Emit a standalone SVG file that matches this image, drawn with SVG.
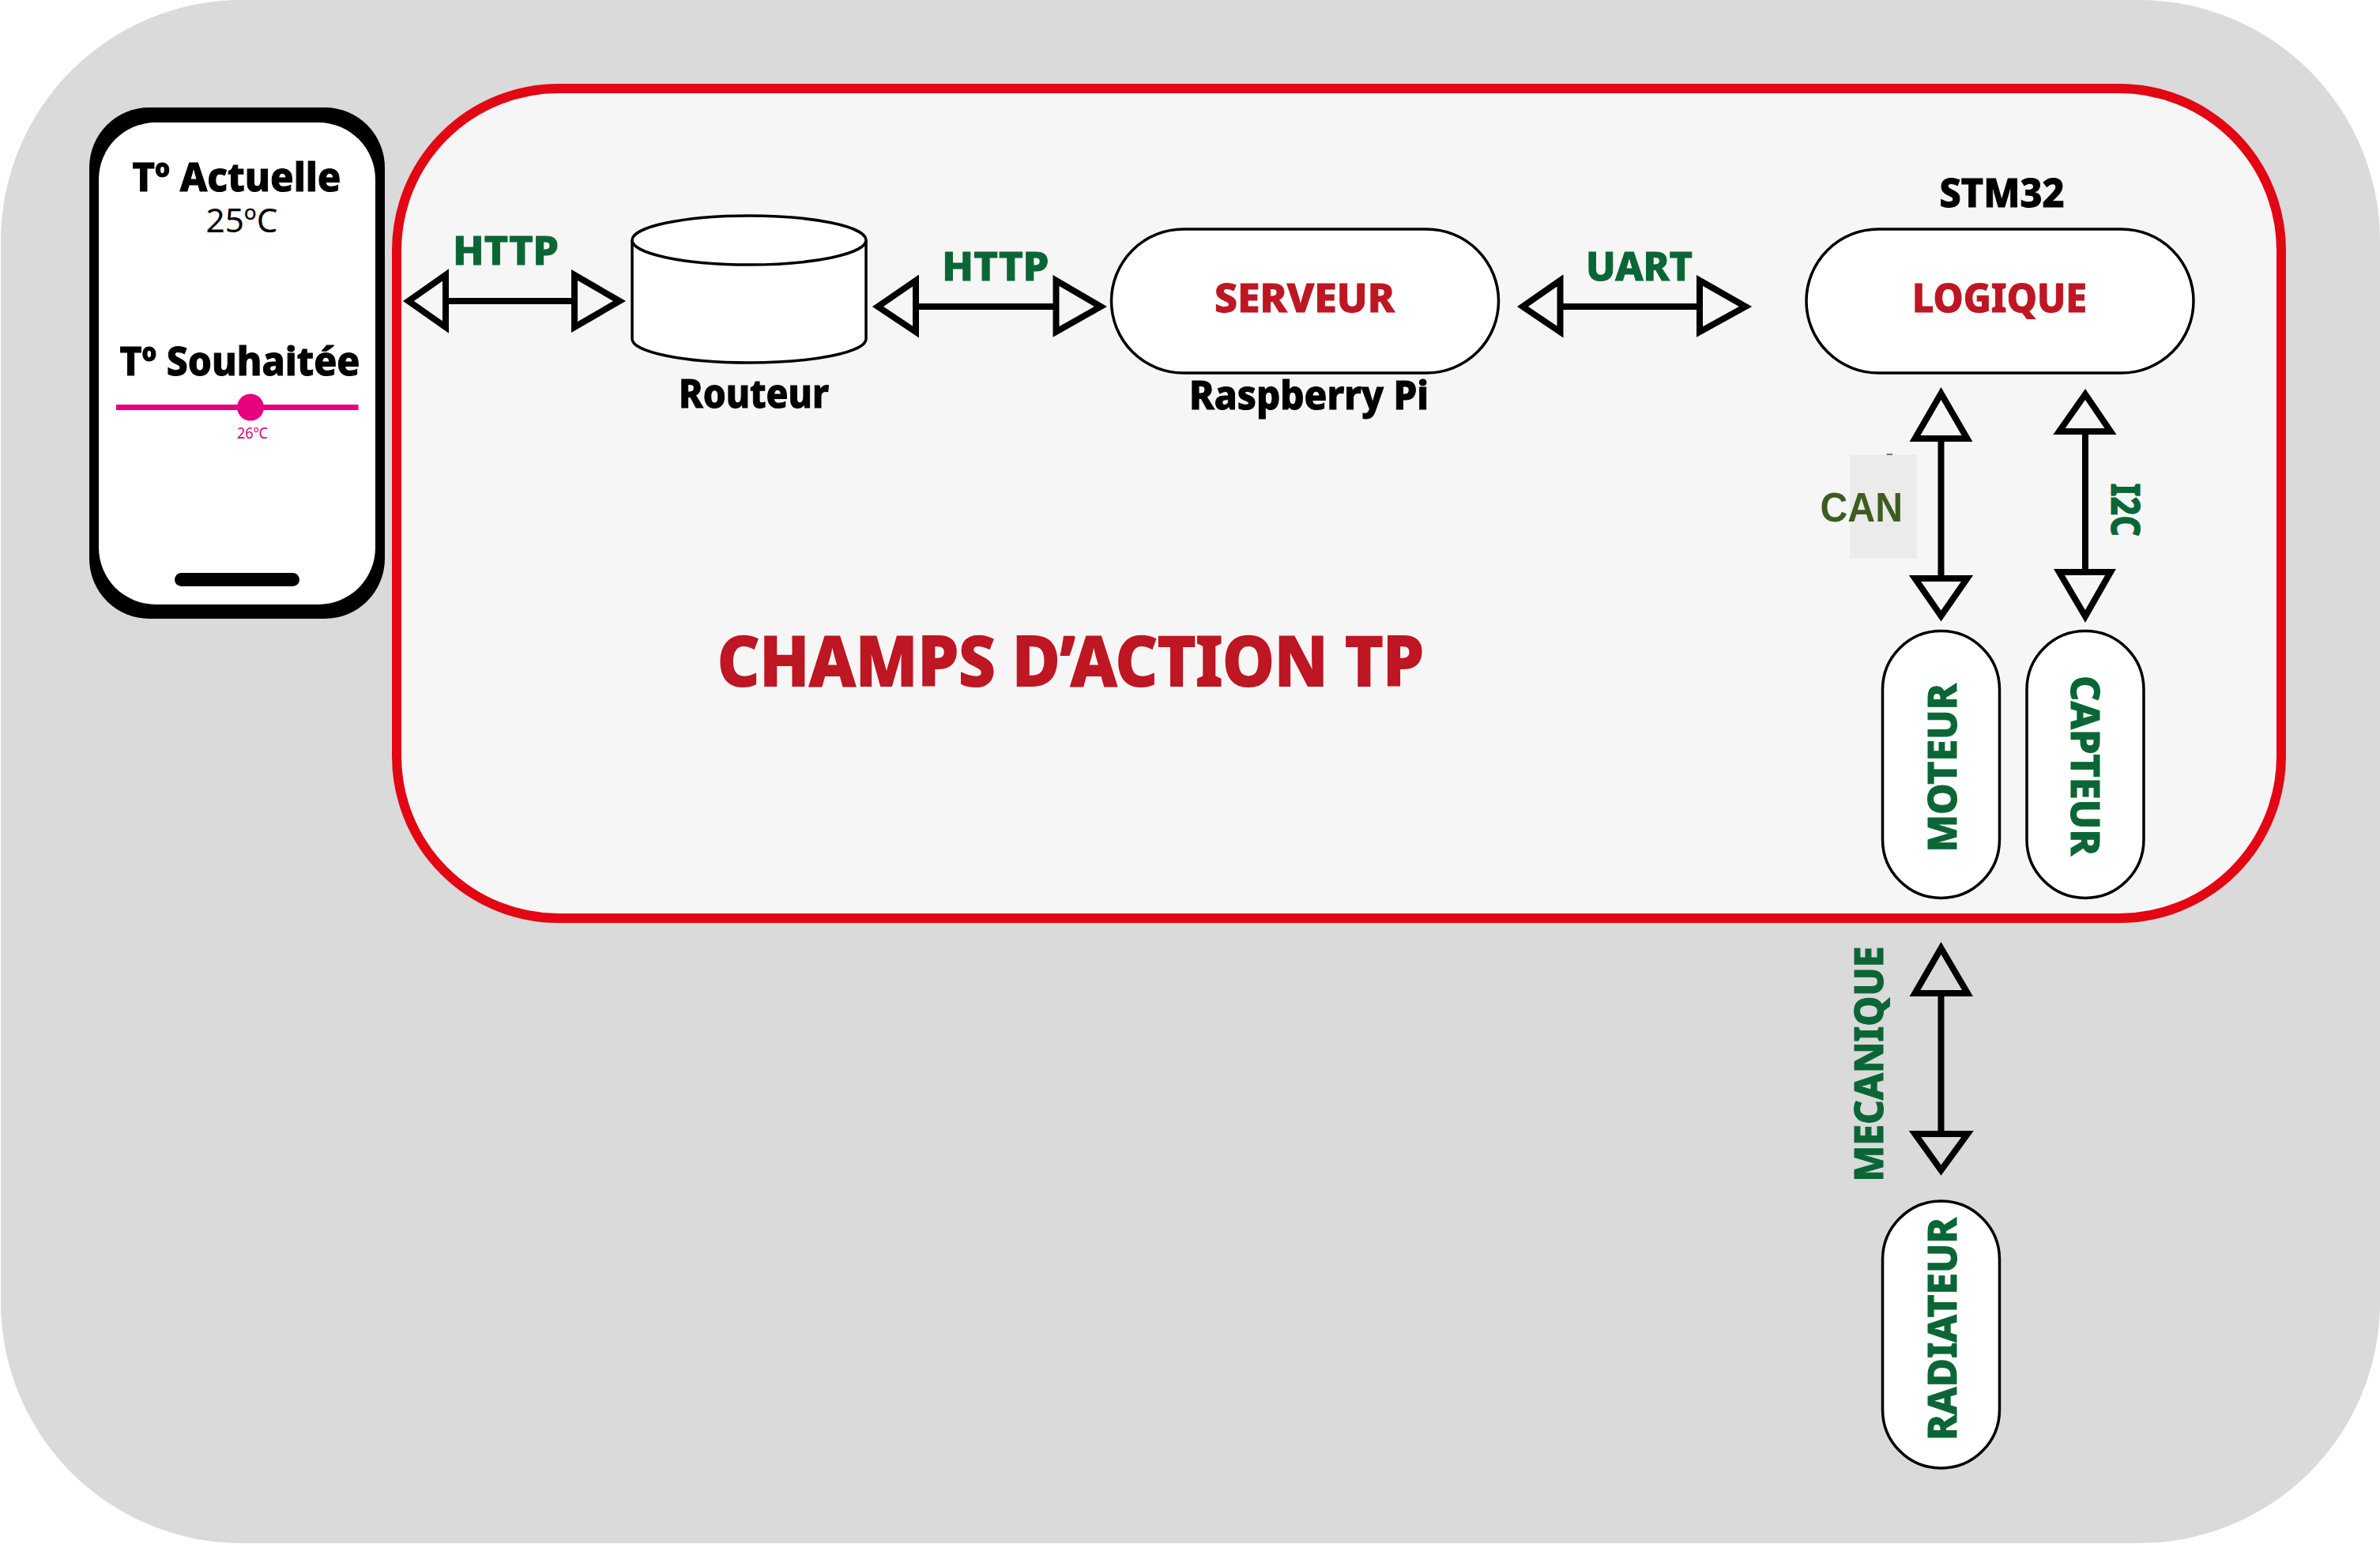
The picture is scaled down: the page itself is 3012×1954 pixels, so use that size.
<svg xmlns="http://www.w3.org/2000/svg" width="3012" height="1954" viewBox="0 0 3012 1954">
<style>
text{font-family:"Noto Sans","Open Sans","Liberation Sans",sans-serif;font-weight:800;font-size:50px}
.g{fill:#0B6636;stroke:#0B6636;stroke-width:1}.r{fill:#BE1622;stroke:#BE1622;stroke-width:1}.k{fill:#000;stroke:#000;stroke-width:1}
.pill{fill:#fff;stroke:#000;stroke-width:3.5}
.tri{fill:#F6F6F6;stroke:#000;stroke-width:8;stroke-linejoin:miter;stroke-miterlimit:10}
.tri2{fill:#DADADA;stroke:#000;stroke-width:8;stroke-linejoin:miter;stroke-miterlimit:10}
.sh{stroke:#000;stroke-width:8;fill:none}
</style>
<rect id="background" x="1" y="0" width="3011" height="1953" rx="305" ry="305" fill="#DADADA"/>
<g id="zone"><rect x="502" y="112" width="2385" height="1050" rx="205" ry="205" fill="#F6F6F6" stroke="#E30613" stroke-width="12"/>
<text class="r" x="908" y="868" style="font-size:88px;stroke-width:2" textLength="894" lengthAdjust="spacingAndGlyphs">CHAMPS D’ACTION TP</text></g>
<g id="phone">
<rect x="113" y="136" width="374" height="647" rx="76" ry="76" fill="#000"/>
<rect x="125" y="155" width="350" height="610" rx="72" ry="72" fill="#fff"/>
<rect x="221" y="725" width="158" height="17" rx="8.5" fill="#000"/>
<text class="k" x="167.500" y="241.500" textLength="264" lengthAdjust="spacingAndGlyphs">Tº Actuelle</text>
<text x="260.500" y="294" style="font-size:42px;font-weight:400;fill:#000" textLength="91" lengthAdjust="spacingAndGlyphs">25ºC</text>
<text class="k" x="151.500" y="474.500" textLength="304" lengthAdjust="spacingAndGlyphs">Tº Souhaitée</text>
<line x1="147" y1="515.500" x2="453.500" y2="515.500" stroke="#E6007E" stroke-width="7"/>
<circle cx="317" cy="515.500" r="17" fill="#E6007E"/>
<text x="300" y="555" style="font-size:19px;font-weight:400;fill:#E6007E" textLength="39" lengthAdjust="spacingAndGlyphs">26ºC</text>
</g>
<g id="routeur">
<path d="M800 304V429A148 30 0 0 0 1096 429V304" fill="#fff" stroke="#000" stroke-width="3.500"/>
<ellipse cx="948" cy="304" rx="148" ry="31" fill="#fff" stroke="#000" stroke-width="3.500"/>
<text class="k" x="859" y="516" textLength="190" lengthAdjust="spacingAndGlyphs">Routeur</text>
</g>
<g id="serveur">
<rect class="pill" x="1406.500" y="290" width="490" height="182" rx="91"/>
<text class="r" x="1537" y="394.500" textLength="228" lengthAdjust="spacingAndGlyphs">SERVEUR</text>
<text class="k" x="1505" y="518" textLength="303" lengthAdjust="spacingAndGlyphs">Raspberry Pi</text>
</g>
<g id="logique">
<rect class="pill" x="2286" y="290" width="490" height="182" rx="91"/>
<text class="r" x="2420" y="394.500" textLength="221" lengthAdjust="spacingAndGlyphs">LOGIQUE</text>
<text class="k" x="2454.500" y="261.500" textLength="158" lengthAdjust="spacingAndGlyphs">STM32</text>
</g>
<g id="moteur">
<rect class="pill" x="2382.500" y="798.500" width="148" height="338" rx="74"/>
<text class="g" transform="translate(2476 1078.500) rotate(-90)" textLength="213.500" lengthAdjust="spacingAndGlyphs">MOTEUR</text>
</g>
<g id="capteur">
<rect class="pill" x="2565" y="798.500" width="148" height="338" rx="74"/>
<text class="g" transform="translate(2620.500 855) rotate(90)" textLength="228" lengthAdjust="spacingAndGlyphs">CAPTEUR</text>
</g>
<g id="radiateur">
<rect class="pill" x="2382.500" y="1520" width="148" height="338" rx="74"/>
<text class="g" transform="translate(2476 1823) rotate(-90)" textLength="282" lengthAdjust="spacingAndGlyphs">RADIATEUR</text>
</g>
<g id="connectors">
<line class="sh" x1="567" y1="381" x2="723" y2="381"/>
<polygon class="tri" points="517,381 564,348 564,414"/>
<polygon class="tri" points="784,381 727,348 727,414"/>
<line class="sh" x1="1162" y1="388" x2="1336" y2="388"/>
<polygon class="tri" points="1111,388 1159,355 1159,420"/>
<polygon class="tri" points="1393,388 1336.500,355 1336.500,420"/>
<line class="sh" x1="1978" y1="388" x2="2148" y2="388"/>
<polygon class="tri" points="1927,388 1974.500,355 1974.500,420"/>
<polygon class="tri" points="2209,388 2151,355 2151,420"/>
<line class="sh" x1="2456.500" y1="559" x2="2456.500" y2="737"/>
<polygon class="tri" points="2456.500,498 2423.500,555 2489.500,555"/>
<polygon class="tri" points="2456.500,779.500 2423.500,732 2489.500,732"/>
<line class="sh" x1="2639" y1="546" x2="2639" y2="721"/>
<polygon class="tri" points="2639,499 2606,546 2671,546"/>
<polygon class="tri" points="2639,780 2606,724 2671,724"/>
<line class="sh" x1="2456.500" y1="1261" x2="2456.500" y2="1431"/>
<polygon class="tri2" points="2456.500,1200 2423.500,1257 2490,1257"/>
<polygon class="tri2" points="2456.500,1481 2423.500,1435 2490,1435"/>
</g>
<g id="labels">
<text class="g" x="573" y="334.500" textLength="134" lengthAdjust="spacingAndGlyphs">HTTP</text>
<text class="g" x="1192" y="355" textLength="135.500" lengthAdjust="spacingAndGlyphs">HTTP</text>
<text class="g" x="2007" y="355" textLength="135" lengthAdjust="spacingAndGlyphs">UART</text>
<rect x="2341" y="575.700" width="85" height="131" fill="#EBEBEB"/>
<rect x="2387.500" y="574" width="7.500" height="2" fill="#5A8A6A"/>
<text x="2303.500" y="660" style="font-family:'Liberation Sans',Arial,sans-serif;font-weight:700;font-size:51px;fill:#3D5C1E" textLength="104.500" lengthAdjust="spacingAndGlyphs">CAN</text>
<text class="g" transform="translate(2672 611.500) rotate(90)" textLength="67.500" lengthAdjust="spacingAndGlyphs">I2C</text>
<text class="g" transform="translate(2382.500 1495.500) rotate(-90)" textLength="298" lengthAdjust="spacingAndGlyphs">MECANIQUE</text>
</g>
</svg>
